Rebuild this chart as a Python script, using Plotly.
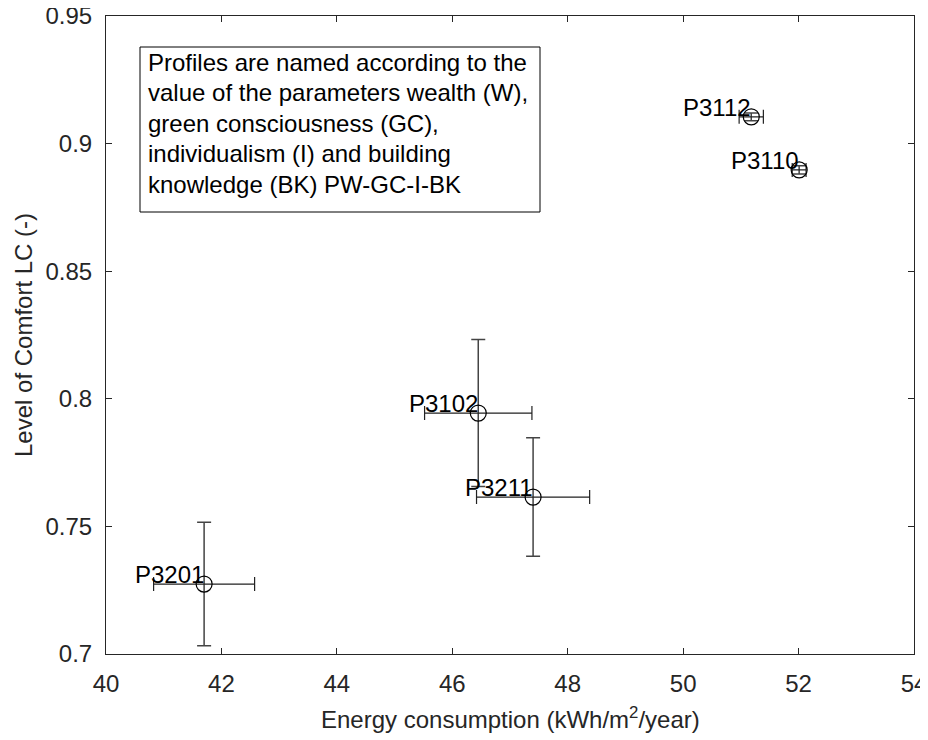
import plotly.graph_objects as go

# Data
profiles = ["P3112", "P3110", "P3102", "P3211", "P3201"]
energy = [51.18, 52.01, 46.45, 47.40, 41.70]
energy_err = [0.21, 0.12, 0.93, 0.98, 0.875]
comfort = [0.9105, 0.8897, 0.7944, 0.7615, 0.7274]
comfort_err = [0.0015, 0.0016, 0.0288, 0.0232, 0.0242]

x_ticks = [40, 42, 44, 46, 48, 50, 52, 54]
y_ticks = [0.7, 0.75, 0.8, 0.85, 0.9, 0.95]
y_tick_labels = ["0.7", "0.75", "0.8", "0.85", "0.9", "0.95"]

note_lines = [
    "Profiles are named according to the",
    "value of the parameters wealth (W),",
    "green consciousness (GC),",
    "individualism (I) and building",
    "knowledge (BK) PW-GC-I-BK",
]

FONT = "Liberation Sans, Arial, Helvetica, sans-serif"
AX = "#262626"
FS = 24
OFF = 8  # default page body margin
W, H = 928 - OFF, 740 - OFF
# target plot area in page pixels: x 106..914, y 16..654
ML = 106 - OFF
MT = 16 - OFF
MR = (OFF + W) - 914
MB = (OFF + H) - 654

fig = go.Figure()
fig.add_trace(go.Scatter(
    x=energy, y=comfort, mode="markers",
    marker=dict(symbol="circle-open", size=16, color="black", line=dict(width=1.2, color="black")),
    error_x=dict(type="data", array=energy_err, visible=True, color="#222222", thickness=1.2, width=7),
    error_y=dict(type="data", array=comfort_err, visible=True, color="#444444", thickness=1.5, width=7),
    showlegend=False, hoverinfo="x+y",
))

annotations = []
for name, xv, yv in zip(profiles, energy, comfort):
    annotations.append(dict(
        x=xv, y=yv, xref="x", yref="y", text=name, showarrow=False,
        xanchor="right", yanchor="bottom", xshift=2, yshift=-6,
        font=dict(family=FONT, size=FS, color="black"),
    ))

pw = W - ML - MR
ph = H - MT - MB
def px_to_paper_x(px):
    return (px - OFF - ML) / pw
def px_to_paper_y(py):
    return 1 - (py - OFF - MT) / ph

box_left, box_right, box_top, box_bottom = 140, 540, 47, 212
line_y0, line_dy = 62, 30.5
for i, line in enumerate(note_lines):
    annotations.append(dict(
        x=px_to_paper_x(146), y=px_to_paper_y(line_y0 + i * line_dy),
        xref="paper", yref="paper", text=line, showarrow=False,
        xanchor="left", yanchor="middle",
        font=dict(family=FONT, size=FS, color="black"),
    ))

# axis titles
annotations.append(dict(
    x=px_to_paper_x(510), y=px_to_paper_y(718), xref="paper", yref="paper",
    text="Energy consumption (kWh/m<sup>2</sup>/year)", showarrow=False,
    xanchor="center", yanchor="middle", font=dict(family=FONT, size=FS, color=AX),
))
annotations.append(dict(
    x=px_to_paper_x(23), y=px_to_paper_y(335), xref="paper", yref="paper",
    text="Level of Comfort LC (-)", showarrow=False, textangle=-90,
    xanchor="center", yanchor="middle", font=dict(family=FONT, size=FS, color=AX),
))

fig.add_shape(type="rect", xref="paper", yref="paper",
              x0=px_to_paper_x(box_left), x1=px_to_paper_x(box_right),
              y0=px_to_paper_y(box_bottom), y1=px_to_paper_y(box_top),
              line=dict(color="black", width=1), fillcolor="white", layer="below")

fig.update_layout(
    width=W, height=H,
    margin=dict(l=ML, r=MR, t=MT, b=MB, autoexpand=False),
    plot_bgcolor="white", paper_bgcolor="white",
    font=dict(family=FONT, size=FS, color=AX),
    annotations=annotations,
    xaxis=dict(
        range=[40, 54], tickvals=x_ticks, ticktext=[str(v) for v in x_ticks],
        showgrid=False, zeroline=False, showline=True, linecolor=AX, linewidth=1,
        mirror="ticks", ticks="inside", ticklen=6, tickcolor=AX, automargin=False,
        ticklabelstandoff=8, ticklabeloverflow="allow",
        tickfont=dict(family=FONT, size=FS, color=AX),
    ),
    yaxis=dict(
        range=[0.7, 0.95], tickvals=y_ticks, ticktext=y_tick_labels,
        showgrid=False, zeroline=False, showline=True, linecolor=AX, linewidth=1,
        mirror="ticks", ticks="inside", ticklen=6, tickcolor=AX, automargin=False,
        ticklabelstandoff=8, ticklabeloverflow="allow",
        tickfont=dict(family=FONT, size=FS, color=AX),
    ),
)

fig.write_html("out.html")
